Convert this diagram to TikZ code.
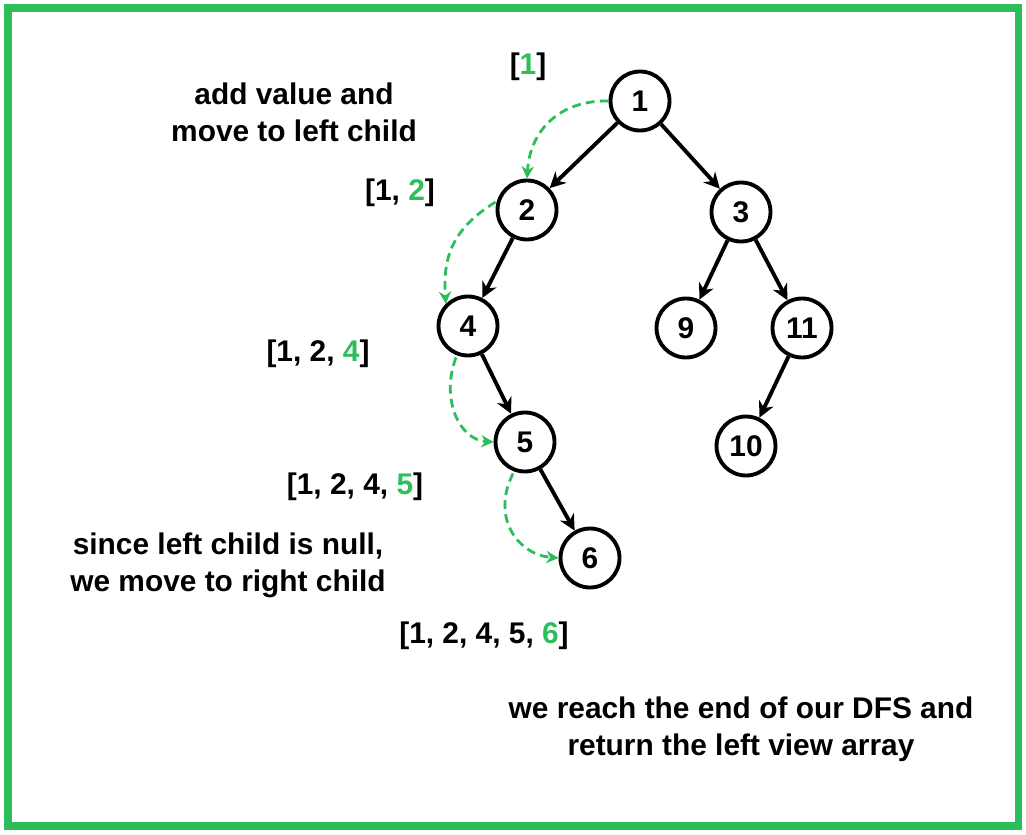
\documentclass[tikz,border=0pt]{standalone}
\usepackage{fontspec}
\setmainfont{Liberation Sans}
\usetikzlibrary{arrows.meta}
\definecolor{gr}{HTML}{2DBE5C}
\begin{document}
\begin{tikzpicture}[x=0.02cm,y=-0.02cm,
  tn/.style={circle,draw,line width=2.2pt,minimum size=1.18cm,inner sep=0pt,font=\fontsize{17}{20}\selectfont\bfseries},
  lbl/.style={font=\fontsize{17}{21}\selectfont\bfseries,align=center},
  ed/.style={line width=2.2pt,-{Stealth[length=9pt,width=9pt]}},
  ga/.style={gr,line width=1.6pt,dashed,dash pattern=on 5pt off 3pt,-{Stealth[length=7pt,width=7pt]}}]
\useasboundingbox (0,0) rectangle (1026,834);
\draw[gr,line width=4pt] (8,8) rectangle (1018,826);
\node[tn] (n1) at (640,101) {1};
\node[tn] (n2) at (527,210) {2};
\node[tn] (n3) at (741,212) {3};
\node[tn] (n4) at (468,326) {4};
\node[tn] (n5) at (525,442) {5};
\node[tn] (n9) at (686,328) {9};
\node[tn] (n11) at (802,328) {11};
\node[tn] (n10) at (746,446) {10};
\node[tn] (n6) at (590,558) {6};
\draw[ed] (n1) -- (n2);
\draw[ed] (n1) -- (n3);
\draw[ed] (n2) -- (n4);
\draw[ed] (n3) -- (n9);
\draw[ed] (n3) -- (n11);
\draw[ed] (n11) -- (n10);
\draw[ed] (n4) -- (n5);
\draw[ed] (n5) -- (n6);
\draw[ga] (n1.west) .. controls (560,100) and (530,130) .. (n2.north);
\draw[ga] (n2.west) ++(0,-8) .. controls (450,230) and (443,260) .. (n4.north west);
\draw[ga] (n4.south) ++(-12,0) .. controls (440,400) and (460,440) .. (n5.west);
\draw[ga] (n5.south) ++(-12,0) .. controls (490,520) and (520,555) .. (n6.west);
\node[lbl] (t1) at (528,67) {[\textcolor{gr}{1}]};
\node[lbl] (t2) at (294,112) {add value and\\move to left child};
\node[lbl] (t3) at (400,193) {[1, \textcolor{gr}{2}]};
\node[lbl] (t4) at (318,354) {[1, 2, \textcolor{gr}{4}]};
\node[lbl] (t5) at (355,487) {[1, 2, 4, \textcolor{gr}{5}]};
\node[lbl] (t6) at (228,565) {since left child is null,\\we move to right child};
\node[lbl] (t7) at (484,636) {[1, 2, 4, 5, \textcolor{gr}{6}]};
\node[lbl] (t8) at (741,729) {we reach the end of our DFS and\\return the left view array};
\end{tikzpicture}
\end{document}
